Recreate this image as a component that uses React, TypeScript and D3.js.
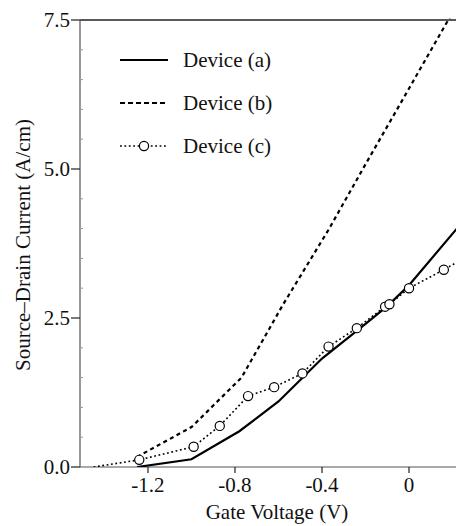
import * as d3 from "d3";

// Gate voltage (V) / source-drain current (A/cm)
const voltsA = [-1.25, -1.0, -0.78, -0.6, -0.4, -0.2, -0.1, 0.0, 0.22, 0.3];
const currentA = [0.0, 0.13, 0.6, 1.1, 1.82, 2.4, 2.7, 3.05, 4.0, 4.4];

const voltsB = [-1.25, -1.0, -0.77, -0.58, -0.37, -0.2, 0.0, 0.18, 0.25];
const currentB = [0.17, 0.67, 1.5, 2.72, 3.98, 5.08, 6.35, 7.5, 7.95];

const voltsC = [-1.45, -1.24, -0.99, -0.87, -0.74, -0.62, -0.49, -0.37, -0.24, -0.11, -0.09, 0.0, 0.16, 0.3];
const currentC = [0.0, 0.12, 0.34, 0.69, 1.19, 1.34, 1.57, 2.02, 2.33, 2.69, 2.73, 3.0, 3.31, 3.6];
// which points of (c) carry a circle marker
const markC = [false, true, true, true, true, true, true, true, true, true, true, true, true, false];

const xTicks = [-1.2, -0.8, -0.4, 0];
const xTickLabels = ["-1.2", "-0.8", "-0.4", "0"];
const yTicks = [0, 2.5, 5.0, 7.5];
const yTickLabels = ["0.0", "2.5", "5.0", "7.5"];
const yMinor = [0.5, 1, 1.5, 2, 3, 3.5, 4, 4.5, 5.5, 6, 6.5, 7];

const legendLabels = ["Device (a)", "Device (b)", "Device (c)"];

const W = 456;
const H = 526;
const left = 80;
const right = 456;
const top = 20;
const bottom = 467;
const FONT = "Liberation Serif, Times New Roman, serif";
const FS = 21;

export default function App() {
  const x = d3.scaleLinear().domain([-1.5125, 0.216]).range([left, right]);
  const y = d3.scaleLinear().domain([0, 7.5]).range([bottom, top]);

  const line = d3
    .line<[number, number]>()
    .x((d) => x(d[0]))
    .y((d) => y(d[1]));

  const ptsA = voltsA.map((v, i) => [v, currentA[i]] as [number, number]);
  const ptsB = voltsB.map((v, i) => [v, currentB[i]] as [number, number]);
  const ptsC = voltsC.map((v, i) => [v, currentC[i]] as [number, number]);

  const legY = [60, 103, 146];

  return (
    <svg
      width={W}
      height={H}
      style={{ position: "absolute", left: 0, top: 0, background: "#fff" }}
    >
      <defs>
        <clipPath id="plot">
          <rect x={left} y={top - 2} width={right - left} height={bottom - top + 2} />
        </clipPath>
      </defs>

      {/* frame */}
      <line x1={left} x2={right} y1={top} y2={top} stroke="#222" strokeWidth={1.3} />
      <line x1={left} x2={left} y1={top} y2={bottom} stroke="#555" strokeWidth={1.2} />
      <line x1={left} x2={right} y1={bottom} y2={bottom} stroke="#555" strokeWidth={1.2} />

      {/* y ticks */}
      {yTicks.map((t, i) => (
        <g key={"y" + t}>
          <line x1={left - 9} x2={left} y1={y(t)} y2={y(t)} stroke="#222" strokeWidth={1.2} />
          <text x={left - 10} y={y(t)} dy="0.35em" textAnchor="end" fontFamily={FONT} fontSize={FS} fill="#111">
            {yTickLabels[i]}
          </text>
        </g>
      ))}
      {yMinor.map((t) => (
        <line key={"ym" + t} x1={left} x2={left + 3} y1={y(t)} y2={y(t)} stroke="#999" strokeWidth={1} />
      ))}

      {/* x ticks */}
      {xTicks.map((t, i) => (
        <g key={"x" + t}>
          <line x1={x(t)} x2={x(t)} y1={bottom} y2={bottom + 6} stroke="#222" strokeWidth={1.2} />
          <text x={x(t)} y={bottom + 25} textAnchor="middle" fontFamily={FONT} fontSize={FS} fill="#111">
            {xTickLabels[i]}
          </text>
        </g>
      ))}

      {/* axis titles */}
      <text x={277} y={519} textAnchor="middle" fontFamily={FONT} fontSize={FS} fill="#111">
        Gate Voltage (V)
      </text>
      <text
        transform={`translate(30,245) rotate(-90)`}
        textAnchor="middle"
        fontFamily={FONT}
        fontSize={FS}
        fill="#111"
      >
        Source–Drain Current (A/cm)
      </text>

      {/* curves */}
      <g clipPath="url(#plot)">
        <path d={line(ptsA) ?? ""} fill="none" stroke="#000" strokeWidth={2.2} />
        <path d={line(ptsB) ?? ""} fill="none" stroke="#000" strokeWidth={2.2} strokeDasharray="4,3.5" />
        <path d={line(ptsC) ?? ""} fill="none" stroke="#000" strokeWidth={1.6} strokeDasharray="1.8,2.6" />
        {ptsC.map((p, i) =>
          markC[i] ? (
            <circle key={"c" + i} cx={x(p[0])} cy={y(p[1])} r={4.6} fill="#fff" stroke="#000" strokeWidth={1.2} />
          ) : null
        )}
      </g>

      {/* legend */}
      <line x1={120} x2={168} y1={legY[0]} y2={legY[0]} stroke="#000" strokeWidth={2} />
      <line x1={120} x2={168} y1={legY[1]} y2={legY[1]} stroke="#000" strokeWidth={2} strokeDasharray="5,3" />
      <line x1={120} x2={168} y1={legY[2]} y2={legY[2]} stroke="#000" strokeWidth={1.6} strokeDasharray="1.8,2.6" />
      <circle cx={144} cy={legY[2]} r={4.6} fill="#fff" stroke="#000" strokeWidth={1.2} />
      {legendLabels.map((s, i) => (
        <text key={s} x={183} y={legY[i]} dy="0.35em" fontFamily={FONT} fontSize={FS} fill="#111">
          {s}
        </text>
      ))}
    </svg>
  );
}
